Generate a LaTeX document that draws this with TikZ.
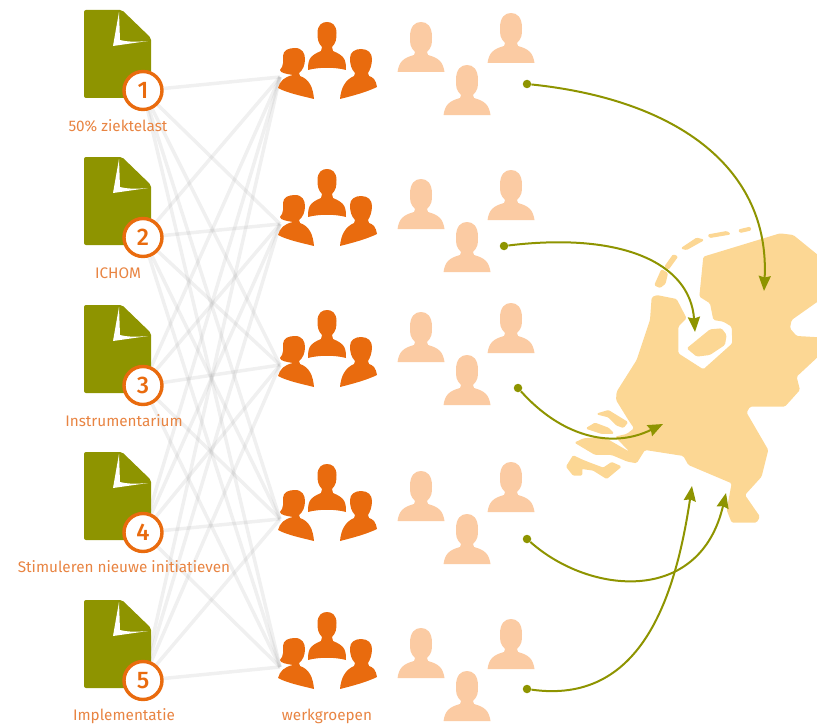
\documentclass[tikz,border=0pt]{standalone}
\usepackage{fontspec}
\setmainfont{Fira Sans}[BoldFont=Fira Sans Medium]
\usetikzlibrary{arrows.meta,backgrounds}
\definecolor{olijf}{HTML}{8E9400}
\definecolor{oranje}{HTML}{E96B0E}
\definecolor{labeloranje}{HTML}{E88442}
\definecolor{bleek}{HTML}{FBCBA3}
\definecolor{kaart}{HTML}{FCD794}
\tikzset{
  numnode/.style = {circle, draw=oranje, line width=3.4pt, fill=white, text=oranje,
    minimum size=38pt, inner sep=0pt, font=\fontsize{24}{24}\selectfont\bfseries},
  labelnode/.style = {text=labeloranje, inner sep=0pt, font=\fontsize{15.3}{17}\selectfont},
  dotnode/.style = {circle, fill=olijf, minimum size=8.5pt, inner sep=0pt},
  edgeline/.style = {line width=3.5pt, black!35, opacity=.17},
  flowarrow/.style = {olijf, line width=2pt, -{Stealth[length=15pt,width=12pt,inset=1.5pt]}},
  kaartland/.style = {fill=kaart, rounded corners=1.5pt},
  kaartdash/.style = {fill=kaart, draw=kaart, line width=1.3pt, line join=round, rounded corners=1pt},
  doc/.pic = {
    \fill[olijf, rounded corners=2pt] (0,0) -- (38,0) -- (67,28) -- (67,88) -- (0,88) -- cycle;
    \fill[white] (35,2) -- (29,36) -- (64,31) .. controls (52,32) and (44,32) .. (36,30) -- cycle;
  },
  group/.pic = {
    % middelste, linker en rechter figuur
    \fill[oranje] (-19,48) .. controls (-19,38) and (-18,34) .. (-6,29) -- (-5,25) .. controls (-9,21) and (-9.5,17) .. (-9.5,11) .. controls (-9.5,3) and (-5,0) .. (0,0) .. controls (5,0) and (9.5,3) .. (9.5,11) .. controls (9.5,17) and (9,21) .. (5,25) -- (6,29) .. controls (18,34) and (19,38) .. (19,48) .. controls (8,45) and (-8,45) .. (-19,48) -- cycle;
    \fill[oranje] (-49,66) .. controls (-47,59) and (-43,55) .. (-34,53) .. controls (-40,52) and (-47,51) .. (-47,48) .. controls (-43,44) and (-44,38) .. (-44,34) .. controls (-44,28) and (-38,26) .. (-32,26) .. controls (-25,26) and (-22,31) .. (-22,37) .. controls (-22,43) and (-24,48) .. (-28,51) -- (-27,54) .. controls (-18,57) and (-14,65) .. (-13,77) .. controls (-25,74) and (-40,71) .. (-49,66) -- cycle;
    \fill[oranje] (13,77) .. controls (14,66) and (18,58) .. (27,54) -- (28,51) .. controls (24,47) and (23,42) .. (23,36) .. controls (23,30) and (28,27) .. (34,27) .. controls (41,27) and (45,31) .. (45,37) .. controls (45,43) and (43,48) .. (41,51) -- (42,54) .. controls (46,55) and (49,58) .. (50,65) .. controls (40,70) and (25,74) .. (13,77) -- cycle;
  },
  paleperson/.pic = {
    \fill[bleek] (-23.5,0) .. controls (-22,-10) and (-18,-14) .. (-7,-17) -- (-6,-20) .. controls (-11,-25) and (-11,-28) .. (-11,-35) .. controls (-11,-46) and (-6,-50) .. (0,-50) .. controls (6,-50) and (11,-46) .. (11,-35) .. controls (11,-28) and (11,-25) .. (6,-20) -- (7,-17) .. controls (18,-14) and (22,-10) .. (23.5,0) -- cycle;
  },
}
\begin{document}
\begin{tikzpicture}[x=1pt, y=-1pt]
\useasboundingbox (0,0) rectangle (817,725);

% documenten met nummer
\foreach \n/\docy in {1/10, 2/157, 3/305, 4/452, 5/600} {
  \pic at (84,\docy) {doc};
  \node [numnode] (num\n) at (143,\docy+80.5) {\n};
}
\node [labelnode] (lab1) at (118,126) {50\% ziektelast};
\node [labelnode] (lab2) at (118,273) {ICHOM};
\node [labelnode] (lab3) at (124,421) {Instrumentarium};
\node [labelnode] (lab4) at (124,567) {Stimuleren nieuwe initiatieven};
\node [labelnode] (lab5) at (124,716) {Implementatie};
\node [labelnode] (labw) at (327,716) {werkgroepen};

% werkgroepen
\foreach \n/\groupy in {1/22, 2/169, 3/310, 4/464, 5/612} {
  \pic at (327,\groupy) {group};
  \coordinate (wg\n) at (280,\groupy+55);
}

% losse personen
\foreach \rowy in {0, 157, 290, 449, 606} {
  \pic at (421,72+\rowy) {paleperson};
  \pic at (511,63+\rowy) {paleperson};
  \pic at (467,115+\rowy) {paleperson};
}

% alle verbindingen onder de iconen
\begin{scope}[on background layer]
\foreach \a in {1,...,5} {
  \foreach \b in {1,...,5} {
    \draw [edgeline] (num\a) -- (wg\b);
  }
}
\end{scope}

% kaart
\begin{scope}[shift={(540,220)}, x=.3333pt, y=-.3333pt]
\fill [kaartland] (490,110) -- (720,40) -- (760,45) -- (840,110) -- (840,240) -- (755,300) -- (750,325) -- (770,348) -- (840,352) -- (840,405) -- (770,470) -- (780,510) -- (735,560) -- (630,560) -- (620,578) -- (685,690) -- (665,770) -- (615,825) -- (660,890) -- (650,908) -- (575,908) -- (560,870) -- (575,790) -- (445,735) -- (430,708) -- (315,690) -- (290,730) -- (262,725) -- (215,705) -- (165,705) -- (103,668) -- (130,655) -- (190,650) -- (268,695) -- (225,650) -- (260,642) -- (282,625) -- (265,600) -- (228,540) -- (230,515) -- (290,420) -- (330,300) -- (335,232) -- (350,225) -- (410,237) -- (440,295) -- (415,320) -- (415,400) -- (490,448) -- (577,370) -- (575,320) -- (550,305) -- (520,300) -- (510,250) -- (478,230) -- cycle;
\fill [kaartland] (440,385) -- (510,328) -- (545,325) -- (560,345) -- (555,375) -- (510,405) -- (470,410) -- cycle;
\path [kaartdash] (172,582) -- (205,572) -- (262,607) -- (250,622) -- (230,615) -- (205,590) -- cycle;
\path [kaartdash] (140,625) -- (165,610) -- (205,625) -- (220,640) -- (185,640) -- cycle;
\path [kaartdash] (80,740) -- (100,708) -- (125,720) -- (150,730) -- (190,745) -- (215,728) -- (242,740) -- (200,775) -- (160,750) -- (125,745) -- (125,765) -- (100,765) -- cycle;
\path [kaartdash] (345,195) -- (365,150) -- (382,160) -- (375,190) -- (360,202) -- cycle;
\path [kaartdash] (375,140) -- (400,105) -- (412,110) -- (385,147) -- cycle;
\path [kaartdash] (425,85) -- (470,55) -- (490,60) -- (440,88) -- cycle;
\path [kaartdash] (505,45) -- (560,35) -- (570,42) -- (510,52) -- cycle;
\path [kaartdash] (597,30) -- (630,22) -- (632,30) -- (600,37) -- cycle;
\end{scope}

% pijlen naar de kaart
\node [dotnode] (dot1) at (527,84) {};
\node [dotnode] (dot2) at (504,246) {};
\node [dotnode] (dot3) at (518,388) {};
\node [dotnode] (dot4) at (527,539) {};
\node [dotnode] (dot5) at (527,689) {};
\coordinate (end1) at (764,291);
\coordinate (end2) at (695,332);
\coordinate (end3) at (663,424);
\coordinate (end4) at (726,493);
\coordinate (end5) at (692,486);
\draw [flowarrow] (dot1) .. controls (680,100) and (770,170) .. (end1);
\draw [flowarrow] (dot2) .. controls (620,232) and (690,262) .. (end2);
\draw [flowarrow] (dot3) .. controls (560,435) and (610,450) .. (end3);
\draw [flowarrow] (dot4) .. controls (590,595) and (700,605) .. (end4);
\draw [flowarrow] (dot5) .. controls (640,705) and (675,600) .. (end5);
\end{tikzpicture}
\end{document}
